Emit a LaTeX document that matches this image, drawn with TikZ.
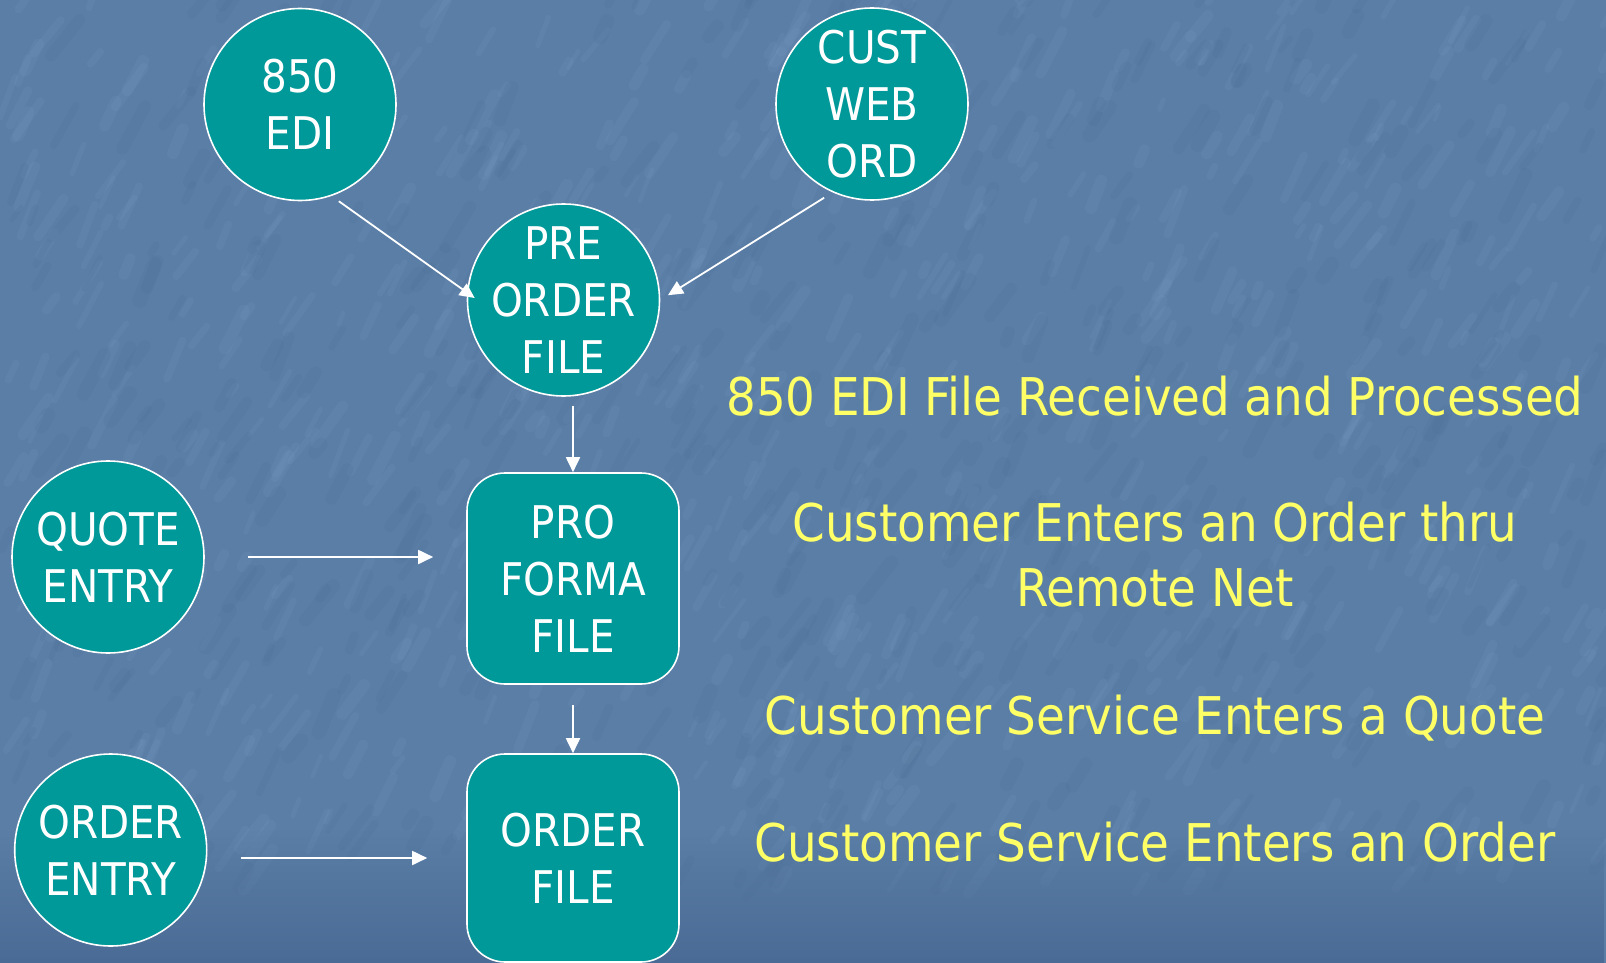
\documentclass[tikz,border=0pt]{standalone}
\usepackage{fontspec}
\usetikzlibrary{arrows.meta,fadings,calc}
\newfontfamily\slidefont{DejaVu Sans Condensed}
\definecolor{slidebg}{RGB}{90,126,166}
\definecolor{slidebgdark}{RGB}{74,107,149}
\definecolor{streaklight}{RGB}{128,162,200}
\definecolor{streakdark}{RGB}{72,104,144}
\definecolor{teal}{RGB}{0,153,153}
\definecolor{caption}{RGB}{255,255,102}
\tikzset{
  procnode/.style={circle, fill=teal, draw=white, line width=1.6pt,
    minimum size=192pt, inner sep=-40pt, text=white, align=center,
    font=\slidefont\fontsize{45}{57}\selectfont},
  filebox/.style={rectangle, rounded corners=38pt, fill=teal, draw=white,
    line width=1.6pt, minimum width=212pt, inner sep=0pt, text=white,
    align=center, font=\slidefont\fontsize{45}{57}\selectfont},
  flow/.style={draw=white, line width=1.8pt,
    -{Triangle[length=15pt,width=14pt]}},
  captiontext/.style={text=caption, align=center, anchor=base,
    font=\slidefont\fontsize{52}{65}\selectfont},
  lightstreak/.style={draw=streaklight, opacity=0.13, line cap=round},
  darkstreak/.style={draw=streakdark, opacity=0.12, line cap=round}
}
\begin{document}
\begin{tikzpicture}[x=1pt,y=-1pt]
  % textured blue backdrop
  \useasboundingbox (0,0) rectangle (1606,963);
  \fill[slidebg] (0,0) rectangle (1606,963);
  \pgfmathsetseed{7}
  \foreach \i in {1,...,700}{
    \pgfmathsetmacro\sx{rnd*1606}
    \pgfmathsetmacro\sy{rnd*900}
    \pgfmathsetmacro\sl{10+rnd*40}
    \pgfmathsetmacro\sa{-50-rnd*20}
    \pgfmathsetmacro\sw{4+rnd*8}
    \draw[lightstreak, line width=\sw] (\sx,\sy) -- ++(\sa:\sl);
  }
  \foreach \i in {1,...,500}{
    \pgfmathsetmacro\sx{rnd*1606}
    \pgfmathsetmacro\sy{rnd*900}
    \pgfmathsetmacro\sl{10+rnd*40}
    \pgfmathsetmacro\sa{-50-rnd*20}
    \pgfmathsetmacro\sw{5+rnd*10}
    \draw[darkstreak, line width=\sw] (\sx,\sy) -- ++(\sa:\sl);
  }
  \fill[slidebgdark, path fading=north] (0,830) rectangle (1606,963);

  % process nodes
  \node[procnode] (edi)    at (300,104.5) {850\\EDI};
  \node[procnode] (cust)   at (872,104)   {CUST\\WEB\\ORD};
  \node[procnode] (pre)    at (563.5,300) {PRE\\ORDER\\FILE};
  \node[procnode] (quote)  at (108,557)   {QUOTE\\ENTRY};
  \node[procnode] (oentry) at (110.7,850) {ORDER\\ENTRY};
  \node[filebox, minimum height=211pt] (pro)  at (573,578.5) {PRO\\FORMA\\FILE};
  \node[filebox, minimum height=208pt] (ordf) at (573,858)   {ORDER\\FILE};

  % flow of orders
  \draw[flow, shorten <=9pt] (edi.-71.6) -- ($(pre.west)+(8,-2)$);
  \draw[flow, shorten <=10pt, shorten >=9pt] (cust.-114) -- (pre.east);
  \draw[flow, shorten <=9pt] (pre.south -| pro.north) -- (pro.north);
  \draw[flow, shorten <=20pt] (pro.south) -- (ordf.north);
  \draw[flow, shorten <=43pt, shorten >=33pt] (quote.east) -- (quote.east -| pro.west);
  \draw[flow, shorten <=33pt, shorten >=39pt] (ordf.west -| oentry.east) -- (ordf.west);

  % descriptions
  \node[captiontext] (c1) at (1155,415) {850 EDI File Received and Processed};
  \node[captiontext] (c2) at (1155,606.7) {Customer Enters an Order thru\\Remote Net};
  \node[captiontext] (c3) at (1155,734) {Customer Service Enters a Quote};
  \node[captiontext] (c4) at (1155,861.7) {Customer Service Enters an Order};
\end{tikzpicture}
\end{document}
